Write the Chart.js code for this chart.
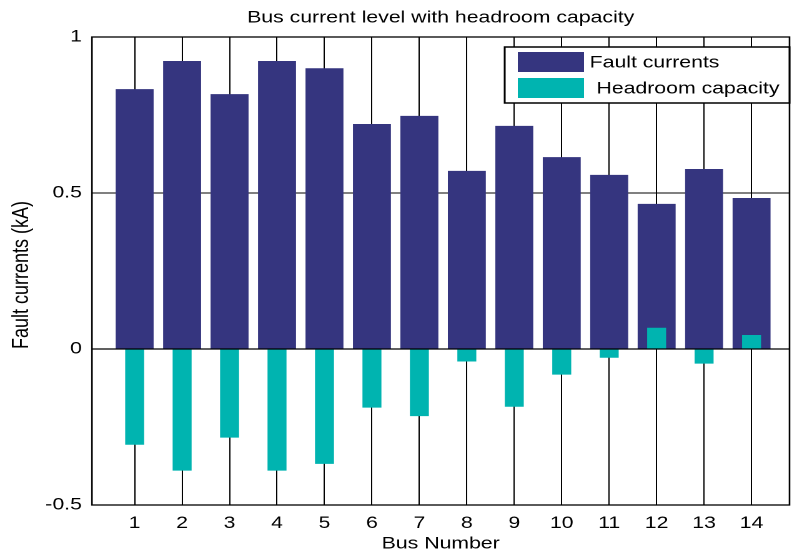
<!DOCTYPE html>
<html>
<head>
<meta charset="utf-8">
<script src="https://cdn.jsdelivr.net/npm/chart.js@4.4.1/dist/chart.umd.min.js"></script>
<style>
html, body { margin: 0; padding: 0; background: #fff; }
</style>
</head>
<body>
<canvas id="Chart" width="634" height="556" style="width:792px;height:556px;"></canvas>
<script>
// values
var busNumbers = [1, 2, 3, 4, 5, 6, 7, 8, 9, 10, 11, 12, 13, 14];
var faultCurrents = [0.833, 0.923, 0.817, 0.923, 0.900, 0.721, 0.747, 0.571, 0.715, 0.615, 0.558, 0.465, 0.577, 0.484];
var headroomCapacity = [-0.307, -0.390, -0.284, -0.390, -0.368, -0.188, -0.215, -0.040, -0.185, -0.082, -0.028, 0.068, -0.047, 0.045];
var yTicks = [-0.5, 0, 0.5, 1];
var seriesNames = ['Fault currents', 'Headroom capacity'];
var seriesColors = ['#35357f', '#00b4b0'];
var chartTitle = 'Bus current level with headroom capacity';
var xTitle = 'Bus Number';
var yTitle = 'Fault currents (kA)';

// the original figure is stretched sideways, so the canvas is drawn narrow
// and widened by css (634 -> 792)
var fontFamily = "'Liberation Sans', Arial, Helvetica, sans-serif";

function toPoints(vals) {
    return busNumbers.map(function(b, i) { return {x: b, y: vals[i]}; });
}

// title, y title, frame, zero line and boxed legend like the matlab figure
var framePlugin = {
    id: 'frame',
    afterDatasetsDraw: function(chart) {
        var c = chart.ctx;
        var a = chart.chartArea;
        var y0 = chart.scales.y.getPixelForValue(0);
        c.save();
        c.strokeStyle = '#000';
        c.lineWidth = 1.3;
        c.beginPath();
        c.moveTo(a.left, y0);
        c.lineTo(a.right, y0);
        c.stroke();
        c.strokeRect(a.left, a.top, a.right - a.left, a.bottom - a.top);

        // legend
        var lw = 228, lh = 56;
        var lx = a.right - lw, ly = a.top + 10;
        c.fillStyle = '#fff';
        c.fillRect(lx, ly, lw, lh);
        c.lineWidth = 1.5;
        c.strokeRect(lx, ly, lw, lh);
        c.font = '17px ' + fontFamily;
        c.textBaseline = 'middle';
        c.textAlign = 'left';
        for (var i = 0; i < seriesNames.length; i++) {
            var sy = ly + 5 + i * 26;
            c.fillStyle = seriesColors[i];
            c.fillRect(lx + 10.5, sy, 53, 20);
            c.fillStyle = '#000';
            c.fillText(seriesNames[i], lx + 68 + i * 5.5, sy + 11);
        }

        // titles
        c.font = '17px ' + fontFamily;
        c.textAlign = 'center';
        c.fillText(chartTitle, (a.left + a.right) / 2, 18);
        c.font = '18px ' + fontFamily;
        c.translate(17.6, 275);
        c.rotate(-Math.PI / 2);
        c.fillText(yTitle, 0, 0);
        c.restore();
    }
};

var ctx = document.getElementById('Chart').getContext('2d');
var myChart = new Chart(ctx, {
    type: 'bar',
    data: {
        datasets: [{
            label: seriesNames[0],
            data: toPoints(faultCurrents),
            backgroundColor: seriesColors[0],
            categoryPercentage: 1,
            barPercentage: 0.8,
            grouped: false,
            order: 2
        }, {
            label: seriesNames[1],
            data: toPoints(headroomCapacity),
            backgroundColor: seriesColors[1],
            categoryPercentage: 1,
            barPercentage: 0.4,
            grouped: false,
            order: 1
        }]
    },
    options: {
        responsive: false,
        animation: false,
        devicePixelRatio: 2,
        layout: {padding: {top: 37, right: 2, left: 0, bottom: 0}},
        plugins: {
            legend: {display: false},
            tooltip: {enabled: false}
        },
        scales: {
            x: {
                type: 'linear',
                offset: false,
                min: 0.1,
                max: 14.8,
                afterBuildTicks: function(s) { s.ticks = busNumbers.map(function(v) { return {value: v}; }); },
                afterFit: function(s) { s.height = 51; },
                grid: {color: '#000', lineWidth: 1, drawTicks: false, offset: false},
                border: {display: false},
                ticks: {
                    color: '#000',
                    font: {family: fontFamily, size: 17},
                    padding: 8,
                    autoSkip: false,
                    maxRotation: 0,
                    callback: function(v) { return String(v); }
                },
                title: {
                    display: true,
                    text: xTitle,
                    color: '#000',
                    font: {family: fontFamily, size: 17},
                    padding: {top: 0, bottom: 2}
                }
            },
            y: {
                min: -0.5,
                max: 1,
                afterBuildTicks: function(s) { s.ticks = yTicks.map(function(v) { return {value: v}; }); },
                afterFit: function(s) { s.width = 73.6; },
                grid: {color: '#000', lineWidth: 1, drawTicks: false},
                border: {display: false},
                ticks: {
                    color: '#000',
                    font: {family: fontFamily, size: 17},
                    padding: 8,
                    callback: function(v) { return String(v); }
                }
            }
        }
    },
    plugins: [framePlugin]
});
</script>
</body>
</html>
